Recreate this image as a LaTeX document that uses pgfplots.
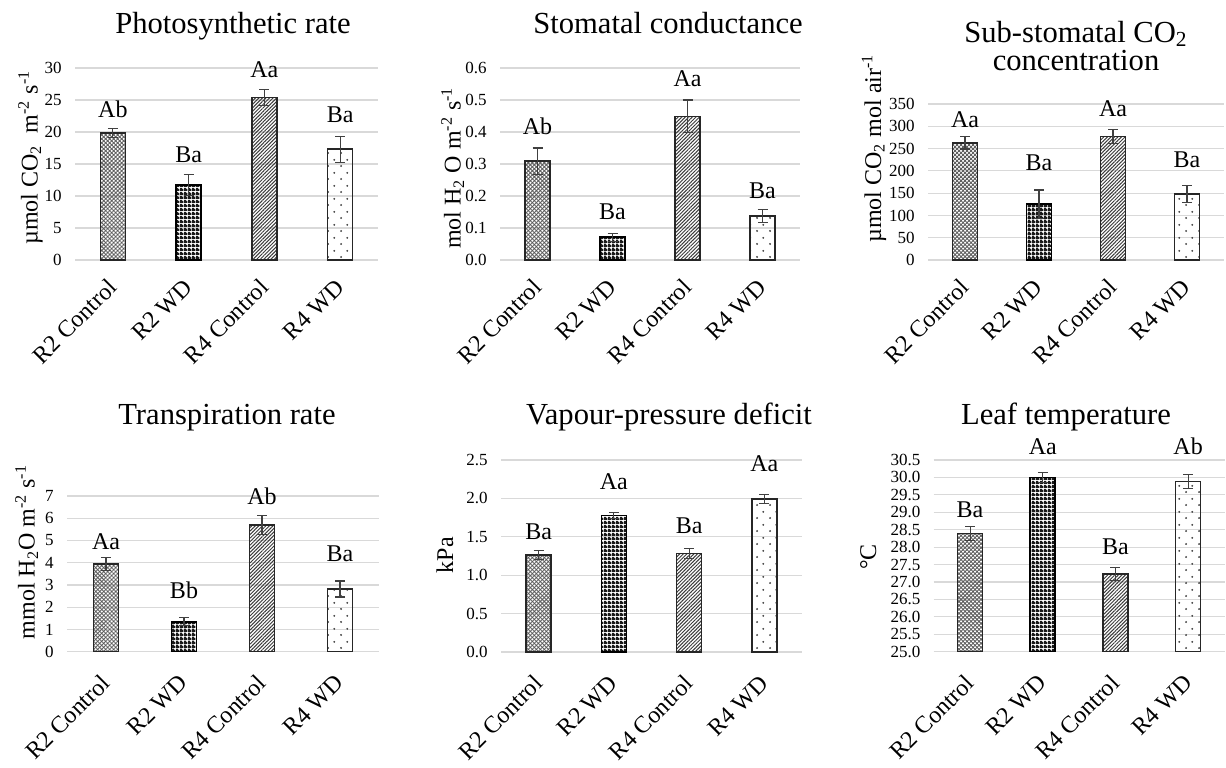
\documentclass[border=0pt]{standalone}
\usepackage{fontspec}
\setmainfont{Liberation Serif}
\usepackage{pgfplots}
\pgfplotsset{compat=1.18}
\usetikzlibrary{patterns.meta}

\definecolor{gridgray}{HTML}{D9D9D9}
\definecolor{errgray}{HTML}{404040}
\definecolor{patgray}{HTML}{3A3A3A}
\definecolor{meshgray}{HTML}{5A5A5A}
\definecolor{edgegray}{HTML}{262626}

\newcommand\titlefont{\fontsize{15.3pt}{18pt}\selectfont}
\newcommand\labfont{\fontsize{12pt}{14pt}\selectfont}
\newcommand\tickfont{\fontsize{8.5pt}{10pt}\selectfont}
\newcommand\xtickfont{\fontsize{12pt}{14pt}\selectfont}
\newcommand\ylabfont{\fontsize{12pt}{14pt}\selectfont}

\tikzdeclarepattern{name=densegrid, type=uncolored,
  bounding box={(0,0) and (2pt,2pt)}, tile size={(2pt,2pt)},
  code={\pgfpathrectangle{\pgfpointorigin}{\pgfpoint{2pt}{1.25pt}}%
        \pgfpathrectangle{\pgfpointorigin}{\pgfpoint{1.25pt}{2pt}}%
        \pgfusepath{fill}}}
\tikzdeclarepattern{name=sparsedots, type=uncolored,
  bounding box={(0,0) and (6.5pt,6.5pt)}, tile size={(6.5pt,6.5pt)},
  code={\pgfpathcircle{\pgfpoint{1.6pt}{1.6pt}}{0.55pt}%
        \pgfpathcircle{\pgfpoint{4.85pt}{4.85pt}}{0.55pt}%
        \pgfusepath{fill}}}

\pgfplotsset{
  b1/.style={draw=edgegray, line width=0.8pt, bar shift=0pt,
    pattern={Lines[angle=45,distance=1.41pt,line width=0.45pt]}, pattern color=meshgray,
    postaction={pattern={Lines[angle=-45,distance=1.41pt,line width=0.45pt]}, pattern color=meshgray}},
  b2/.style={draw=black, line width=0.8pt, bar shift=0pt, pattern=densegrid, pattern color=black!90},
  b3/.style={draw=edgegray, line width=0.8pt, bar shift=0pt,
    pattern={Lines[angle=45,distance=1.25pt,line width=0.5pt]}, pattern color=patgray},
  b4/.style={draw=edgegray, line width=0.8pt, bar shift=0pt, pattern=sparsedots, pattern color=patgray},
  eb/.style={error bars/y dir=both, error bars/y explicit,
    error bars/error bar style={line width=0.55pt, draw=errgray},
    error bars/error mark options={rotate=90, mark size=2.5pt, line width=0.55pt, draw=errgray}},
  panel/.style={
    scale only axis, anchor=south west,
    xmin=-0.5, xmax=3.5, ymin=0,
    xtick={0,1,2,3}, xticklabels={R2 Control,R2 WD,R4 Control,R4 WD},
    ymajorgrids, grid style={draw=gridgray, line width=0.6pt},
    axis line style={draw=none}, major tick length=0pt,
    yticklabel style={font=\tickfont, anchor=east, inner sep=0pt, xshift=-6.5pt},
    /pgf/number format/assume math mode=true,
    clip mode=individual,
    ybar, bar width=12.5pt,
  },
  toprow/.style={xticklabel style={font=\xtickfont, inner sep=0pt, yshift=-11.5pt, rotate=45, anchor=east}},
  botrow/.style={xticklabel style={font=\xtickfont, inner sep=0pt, yshift=-13.5pt, rotate=45, anchor=east}},
  onedec/.style={yticklabel style={/pgf/number format/.cd, fixed, fixed zerofill, precision=1}},
}
\tikzset{
  lab/.style={anchor=base, font=\labfont, inner sep=0pt},
  ttl/.style={anchor=base, font=\titlefont, inner sep=0pt},
  ylab/.style={anchor=base, rotate=90, font=\ylabfont, inner sep=0pt},
}

\begin{document}
\begin{tikzpicture}
\useasboundingbox (0,0) rectangle (613pt,-383.5pt);

% Panel 1: Photosynthetic rate
\begin{axis}[panel, toprow, at={(37.5pt,-130pt)}, width=151.5pt, height=96pt,
  ymax=30, ytick={0,5,10,15,20,25,30}]
\addplot[b1, eb] coordinates {(0,19.8) +- (0,0.7)};
\addplot[b2, eb] coordinates {(1,11.7) +- (0,1.6)};
\addplot[b3, eb] coordinates {(2,25.4) +- (0,1.3)};
\addplot[b4, eb] coordinates {(3,17.3) +- (0,2.0)};
\node[lab] at (axis cs:0,22.3) {Ab};
\node[lab] at (axis cs:1,15.2) {Ba};
\node[lab] at (axis cs:2,28.55) {Aa};
\node[lab] at (axis cs:3,21.5) {Ba};
\end{axis}

% Panel 2: Stomatal conductance
\begin{axis}[panel, toprow, onedec, at={(250pt,-130pt)}, width=150pt, height=96pt,
  ymax=0.6, ytick={0,0.1,0.2,0.3,0.4,0.5,0.6}]
\addplot[b1, eb] coordinates {(0,0.309) +- (0,0.041)};
\addplot[b2, eb] coordinates {(1,0.071) +- (0,0.012)};
\addplot[b3, eb] coordinates {(2,0.449) +- (0,0.051)};
\addplot[b4, eb] coordinates {(3,0.137) +- (0,0.021)};
\node[lab] at (axis cs:0,0.392) {Ab};
\node[lab] at (axis cs:1,0.128) {Ba};
\node[lab] at (axis cs:2,0.543) {Aa};
\node[lab] at (axis cs:3,0.1925) {Ba};
\end{axis}

% Panel 3: Sub-stomatal CO2 concentration
\begin{axis}[panel, toprow, at={(464pt,-130pt)}, width=148pt, height=78pt,
  ymax=350, ytick={0,50,100,150,200,250,300,350}]
\addplot[b1, eb] coordinates {(0,263) +- (0,14)};
\addplot[b2, eb] coordinates {(1,125) +- (0,32)};
\addplot[b3, eb] coordinates {(2,277) +- (0,15)};
\addplot[b4, eb] coordinates {(3,148) +- (0,19)};
\node[lab] at (axis cs:0,296.8) {Aa};
\node[lab] at (axis cs:1,200.4) {Ba};
\node[lab] at (axis cs:2,321.5) {Aa};
\node[lab] at (axis cs:3,208) {Ba};
\end{axis}

% Panel 4: Transpiration rate
\begin{axis}[panel, botrow, at={(33.5pt,-325.85pt)}, width=156pt, height=77.85pt,
  ymax=7, ytick={0,1,2,3,4,5,6,7}]
\addplot[b1, eb] coordinates {(0,3.93) +- (0,0.29)};
\addplot[b2, eb] coordinates {(1,1.34) +- (0,0.18)};
\addplot[b3, eb] coordinates {(2,5.70) +- (0,0.42)};
\addplot[b4, eb] coordinates {(3,2.82) +- (0,0.36)};
\node[lab] at (axis cs:0,4.61) {Aa};
\node[lab] at (axis cs:1,2.40) {Bb};
\node[lab] at (axis cs:2,6.61) {Ab};
\node[lab] at (axis cs:3,4.05) {Ba};
\end{axis}

% Panel 5: Vapour-pressure deficit
\begin{axis}[panel, botrow, onedec, at={(250.5pt,-326pt)}, width=150.5pt, height=96pt,
  ymax=2.5, ytick={0,0.5,1.0,1.5,2.0,2.5}]
\addplot[b1, eb] coordinates {(0,1.26) +- (0,0.06)};
\addplot[b2, eb] coordinates {(1,1.78) +- (0,0.04)};
\addplot[b3, eb] coordinates {(2,1.285) +- (0,0.065)};
\addplot[b4, eb] coordinates {(3,1.99) +- (0,0.06)};
\node[lab] at (axis cs:0,1.47) {Ba};
\node[lab] at (axis cs:1,2.11) {Aa};
\node[lab] at (axis cs:2,1.545) {Ba};
\node[lab] at (axis cs:3,2.35) {Aa};
\end{axis}

% Panel 6: Leaf temperature
\begin{axis}[panel, botrow, onedec, at={(466.85pt,-325.85pt)}, width=145.4pt, height=95.85pt,
  ymin=25, ymax=30.5, ytick={25,25.5,26,26.5,27,27.5,28,28.5,29,29.5,30,30.5}]
\addplot[b1, eb] coordinates {(0,28.39) +- (0,0.19)};
\addplot[b2, eb] coordinates {(1,30.0) +- (0,0.14)};
\addplot[b3, eb] coordinates {(2,27.23) +- (0,0.18)};
\addplot[b4, eb] coordinates {(3,29.88) +- (0,0.21)};
\node[lab] at (axis cs:0,28.84) {Ba};
\node[lab] at (axis cs:1,30.67) {Aa};
\node[lab] at (axis cs:2,27.79) {Ba};
\node[lab] at (axis cs:3,30.67) {Ab};
\end{axis}

\begin{scope}[x=0.5pt,y=-0.5pt]
\node[ttl] at (233,33) {Photosynthetic rate};
\node[ttl] at (668,33) {Stomatal conductance};
\node[ttl] at (1076,42.5) {Sub-stomatal CO\textsubscript{2}};
\node[ttl] at (1076,70) {concentration};
\node[ttl] at (227,424) {Transpiration rate};
\node[ttl] at (669,424) {Vapour-pressure deficit};
\node[ttl] at (1066,424) {Leaf temperature};

\node[ylab] at (37.5,157.5) {µmol CO\textsubscript{2}\ \ m\textsuperscript{-2} s\textsuperscript{-1}};
\node[ylab] at (460.5,168) {mol H\textsubscript{2} O m\textsuperscript{-2} s\textsuperscript{-1}};
\node[ylab] at (881,148.5) {µmol CO\textsubscript{2} mol air\textsuperscript{-1}};
\node[ylab] at (34.5,552) {mmol H\textsubscript{2}O m\textsuperscript{-2} s\textsuperscript{-1}};
\node[ylab] at (453,555) {kPa};
\node[ylab] at (876,557) {°C};
\end{scope}
\end{tikzpicture}
\end{document}
